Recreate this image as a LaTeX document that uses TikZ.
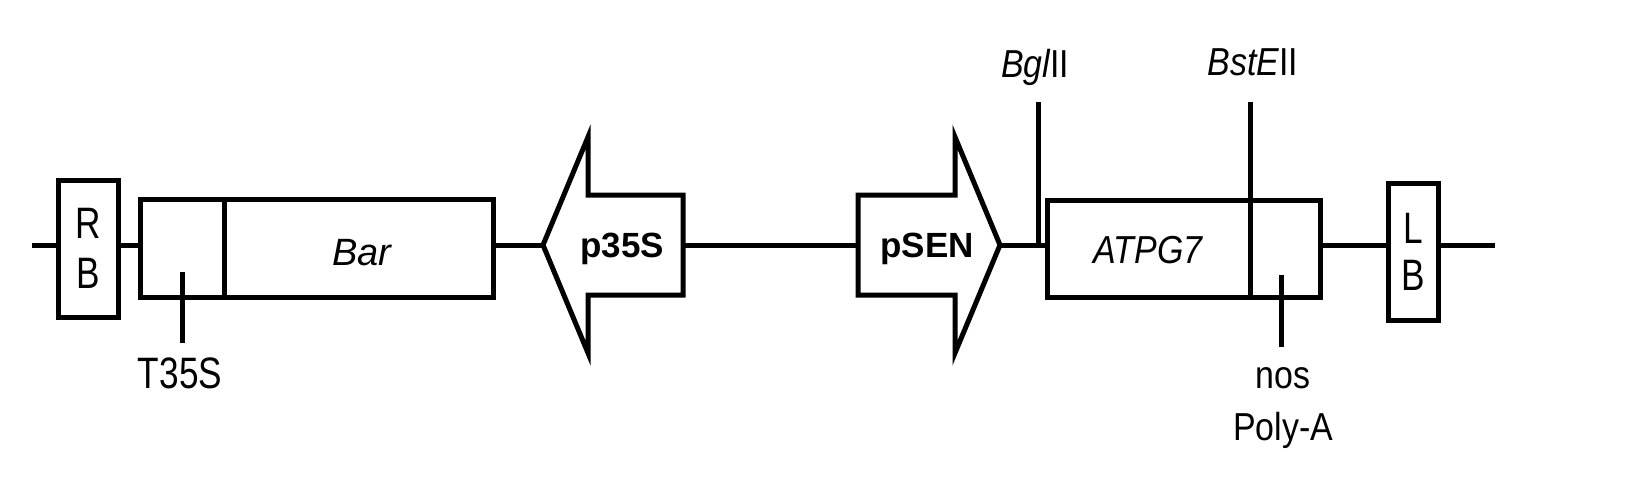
\documentclass[tikz,border=0pt]{standalone}
\usepackage{fontspec}
\setmainfont{Liberation Sans}
\newfontfamily\narf[FakeStretch=0.8]{Liberation Sans}
\newfontfamily\medf[FakeStretch=0.87]{Liberation Sans}
\begin{document}
\begin{tikzpicture}[x=0.5pt,y=-0.5pt,line width=2.5pt,line join=miter,
  box/.style={draw,line width=2.5pt,fill=white,inner sep=0pt,outer sep=0pt,align=center},
  lbl/.style={inner sep=0pt,outer sep=0pt,anchor=base},
  bigtxt/.style={font=\fontsize{22}{25}\selectfont\narf},
  midtxt/.style={font=\fontsize{19.5}{23}\selectfont\medf},
  protxt/.style={font=\fontsize{17.5}{21}\selectfont\bfseries}]
\useasboundingbox (0,0) rectangle (1647,487);
\coordinate (bb) at (0,245);
\coordinate (lend) at (32,245);
\coordinate (rend) at (1495,245);
% boxes
\node[box,bigtxt,minimum width=30pt,minimum height=68.5pt] (rb) at (88,248.5) {R\\B};
\node[box,minimum width=42pt,minimum height=49pt] (t35) at (182,248) {};
\node[box,minimum width=134.5pt,minimum height=49pt] (bar) at (358.5,248) {};
\node[box,minimum width=101.5pt,minimum height=48.5pt] (atpg) at (1148.5,248.5) {};
\node[box,minimum width=35pt,minimum height=48.5pt] (nos) at (1285,248.5) {};
\node[box,font=\fontsize{22}{23.5}\selectfont\narf,minimum width=25pt,minimum height=68.5pt] (lb) at (1413,251.5) {L\\B};
% promoter arrows
\coordinate (p35tip) at (543,245);
\coordinate (p35end) at (683,245);
\coordinate (psenstart) at (858,245);
\coordinate (psentip) at (1000,245);
\draw (p35tip) -- (588,137) -- (588,195) -- (683,195) -- (p35end) -- (683,295) -- (588,295) -- (588,353) -- cycle;
\draw (psentip) -- (955,137) -- (955,195) -- (858,195) -- (psenstart) -- (858,295) -- (955,295) -- (955,353) -- cycle;
\node[lbl,protxt] (p35s) at (622,257) {p35S};
\node[lbl,protxt] (psen) at (927,257) {pSEN};
% backbone
\draw (lend) -- (lend -| rb.west);
\draw (rb.east |- bb) -- (t35.west |- bb);
\draw (bar.east |- bb) -- (p35tip);
\draw (p35end) -- (psenstart);
\draw (psentip) -- (atpg.west |- bb);
\draw (nos.east |- bb) -- (lb.west |- bb);
\draw (lb.east |- bb) -- (rend);
% inner labels
\node[lbl,font=\fontsize{19}{23}\selectfont\itshape] (bartxt) at (362,265) {Bar};
\node[lbl,font=\fontsize{19.5}{23}\selectfont\medf\itshape] (atpgtxt) at (1148,263) {ATPG7};
% restriction sites
\coordinate (bgltop) at (1038,102);
\coordinate (bsttop) at (1250,102);
\draw (bgltop) -- (bgltop |- bb);
\draw (bsttop) -- (bsttop |- nos.south);
\node[lbl,midtxt] (bgl) at (1035,77) {\itshape Bgl\upshape II};
\node[lbl,midtxt] (bst) at (1253,75) {\itshape BstE\upshape II};
% terminator ticks
\coordinate (t35a) at (182,272);
\coordinate (t35b) at (182,343);
\draw (t35a) -- (t35b);
\node[lbl,bigtxt] (t35lbl) at (180,388) {T35S};
\coordinate (nosa) at (1281,275);
\coordinate (nosb) at (1281,347);
\draw (nosa) -- (nosb);
\node[lbl,midtxt] (noslbl) at (1283,388) {nos};
\node[lbl,midtxt] (polylbl) at (1283,440) {Poly-A};
\end{tikzpicture}
\end{document}
